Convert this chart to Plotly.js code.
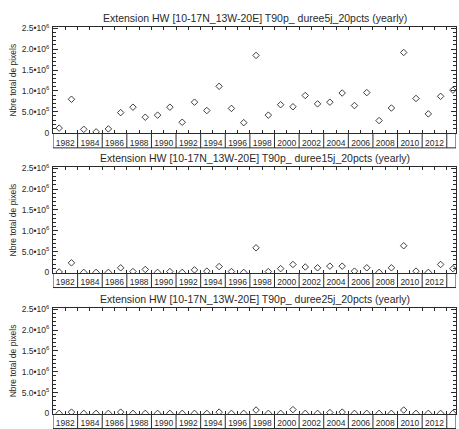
<!DOCTYPE html>
<html>
<head>
<meta charset="utf-8">
<script src="https://cdn.plot.ly/plotly-3.0.1.min.js"></script>
<style>
  html, body { margin: 0; padding: 0; background: #fff; }
  #chart { width: 459px; height: 429px; }
</style>
</head>
<body>
<div id="chart"></div>
<script>
// ---- data ----
const years = [1982,1983,1984,1985,1986,1987,1988,1989,1990,1991,1992,1993,1994,1995,1996,1997,1998,1999,2000,2001,2002,2003,2004,2005,2006,2007,2008,2009,2010,2011,2012,2013,2014];

const duree5j = [110000,800000,80000,20000,90000,480000,610000,370000,420000,610000,250000,730000,530000,1110000,580000,240000,1850000,420000,670000,620000,890000,690000,730000,950000,650000,960000,290000,590000,1920000,820000,450000,870000,1020000];

const duree15j = [10000,230000,0,0,0,110000,20000,70000,0,20000,0,60000,30000,140000,20000,0,590000,20000,90000,190000,130000,110000,150000,150000,30000,110000,0,110000,640000,30000,0,190000,90000];

const duree25j = [0,30000,0,0,0,30000,0,0,0,0,0,0,0,30000,0,0,80000,0,0,90000,0,0,20000,30000,0,0,0,0,80000,0,0,0,0];

const panelTitles = [
  "Extension HW [10-17N_13W-20E] T90p_ duree5j_20pcts (yearly)",
  "Extension HW [10-17N_13W-20E] T90p_ duree15j_20pcts (yearly)",
  "Extension HW [10-17N_13W-20E] T90p_ duree25j_20pcts (yearly)"
];
const yTickVals = [0, 500000, 1000000, 1500000, 2000000, 2500000];
const yTickText = ["0", "5.0•10<sup>5</sup>", "1.0•10<sup>6</sup>", "1.5•10<sup>6</sup>", "2.0•10<sup>6</sup>", "2.5•10<sup>6</sup>"];
const yTitle = "Nbre total de pixels";
const series = [duree5j, duree15j, duree25j];

// ---- layout ----
const FONT = "Liberation Sans, Arial, Helvetica, sans-serif";
const INK = "#2a2a2a";
const domains = [[0.7253, 1.0], [0.3643, 0.6382], [0.0, 0.2739]];
const xRange = [1981.5, 2014.25];
const boxDepth = -0.137;

// tick positions: year boundaries, labels on every second one
const xTickVals = [years[0] - 0.5].concat(years.map(y => y + 0.5)).filter(v => v <= xRange[1]);
const xTickText = xTickVals.map(v => {
  const y = v - 0.5;
  return (y % 2 === 0 && years.includes(y)) ? String(y) : "";
});
// box separators at the left edge of each labelled pair
const sepVals = years.filter(y => y % 2 === 0).map(y => y - 0.5);

const traces = [];
const layout = {
  width: 459, height: 429,
  margin: {l: 53, r: 3, t: 27, b: 15},
  paper_bgcolor: "#fff", plot_bgcolor: "#fff",
  showlegend: false,
  font: {family: FONT, color: INK, size: 8},
  annotations: [],
  shapes: []
};

series.forEach((vals, i) => {
  const n = i + 1;
  const xa = n === 1 ? "x" : "x" + n;
  const ya = n === 1 ? "y" : "y" + n;
  traces.push({
    type: "scatter", mode: "markers",
    x: years, y: vals,
    xaxis: xa, yaxis: ya,
    cliponaxis: true,
    marker: {symbol: "diamond-open", size: 5, color: INK, line: {width: 0.9, color: INK}},
    hoverinfo: "x+y"
  });
  layout["xaxis" + (n === 1 ? "" : n)] = {
    domain: [0, 1], anchor: ya, range: xRange,
    showgrid: false, zeroline: false,
    showline: true, linecolor: INK, linewidth: 1, mirror: "ticks",
    tickmode: "array", tickvals: xTickVals, ticktext: xTickText,
    ticks: "inside", ticklen: 3, tickwidth: 1, tickcolor: INK,
    tickfont: {family: FONT, size: 8.5, color: INK},
    ticklabelstandoff: 1
  };
  layout["yaxis" + (n === 1 ? "" : n)] = {
    domain: domains[i], anchor: xa, range: [-15000, 2530000],
    showgrid: false, zeroline: false,
    showline: true, linecolor: INK, linewidth: 1, mirror: "ticks",
    tickmode: "array", tickvals: yTickVals, ticktext: yTickText,
    ticks: "inside", ticklen: 5, tickwidth: 1, tickcolor: INK,
    minor: {dtick: 100000, tick0: 0, ticks: "inside", ticklen: 3, tickwidth: 1, tickcolor: INK},
    tickfont: {family: FONT, size: 8.5, color: INK},
    ticklabelstandoff: 1,
    title: {text: yTitle, font: {family: FONT, size: 8.5, color: INK}, standoff: 3}
  };
  layout.annotations.push({
    text: panelTitles[i], showarrow: false,
    xref: xa + " domain", yref: ya + " domain", x: 0.5, y: 1,
    xanchor: "center", yanchor: "bottom", yshift: 1,
    font: {family: FONT, size: 10.5, color: INK}
  });
  // label boxes below the axis
  sepVals.concat([xRange[1]]).forEach(v => {
    layout.shapes.push({
      type: "line", xref: xa, yref: ya + " domain",
      x0: v, x1: v, y0: 0, y1: boxDepth,
      line: {color: INK, width: 1}
    });
  });
  layout.shapes.push({
    type: "line", xref: xa + " domain", yref: ya + " domain",
    x0: 0, x1: 1, y0: boxDepth, y1: boxDepth,
    line: {color: INK, width: 1}
  });
});

Plotly.newPlot("chart", traces, layout, {displayModeBar: false, staticPlot: true});
</script>
</body>
</html>
